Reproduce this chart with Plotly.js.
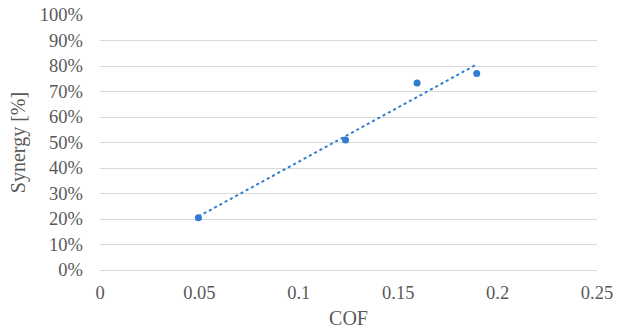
<!DOCTYPE html>
<html>
<head>
<meta charset="utf-8">
<script src="https://cdn.plot.ly/plotly-3.0.1.min.js"></script>
<style>html,body{margin:0;padding:0;background:#fff}#chart{width:621px;height:331px}</style>
</head>
<body>
<div id="chart"></div>
<script>
var cof = [0.0495, 0.1235, 0.1595, 0.1895];
var synergy = [0.205, 0.51, 0.733, 0.771];
var xTicks = [0, 0.05, 0.1, 0.15, 0.2, 0.25];
var xTickText = ["0", "0.05", "0.1", "0.15", "0.2", "0.25"];
var yTicks = [0, 0.1, 0.2, 0.3, 0.4, 0.5, 0.6, 0.7, 0.8, 0.9, 1.0];
var yTickText = ["0%", "10%", "20%", "30%", "40%", "50%", "60%", "70%", "80%", "90%", "100%"];

// linear trendline (least squares) from the data
var n = cof.length, mx = 0, my = 0;
for (var i = 0; i < n; i++) { mx += cof[i]; my += synergy[i]; }
mx /= n; my /= n;
var sxy = 0, sxx = 0;
for (var i = 0; i < n; i++) { sxy += (cof[i]-mx)*(synergy[i]-my); sxx += (cof[i]-mx)*(cof[i]-mx); }
var slope = sxy / sxx, icpt = my - slope * mx;
var xmin = Math.min.apply(null, cof), xmax = Math.max.apply(null, cof);
var trendX = [xmin, xmax];
var trendY = [icpt + slope * xmin, icpt + slope * xmax];

var blue = '#2E7DD2';
var FAM = 'Liberation Serif';
function f(sz) { return {family: FAM, color: '#595959', size: sz}; }

var data = [
  {x: trendX, y: trendY, type: 'scatter', mode: 'lines', line: {color: blue, width: 2, dash: 'dot'}, hoverinfo: 'skip'},
  {x: cof, y: synergy, type: 'scatter', mode: 'markers', marker: {color: blue, size: 7}}
];

var layout = {
  width: 621, height: 331,
  margin: {l: 100, r: 24, t: 15, b: 61},
  showlegend: false,
  paper_bgcolor: '#fff', plot_bgcolor: '#fff',
  font: f(18.5),
  xaxis: {
    range: [0, 0.25], tickvals: xTicks, ticktext: xTickText,
    showgrid: false, zeroline: false,
    showline: true, linecolor: '#d9d9d9', linewidth: 1,
    ticks: '', ticklabelstandoff: 6,
    tickfont: f(18.5),
    title: {text: 'COF', font: f(20), standoff: 8}
  },
  yaxis: {
    range: [0, 1.0], tickvals: yTicks, ticktext: yTickText,
    showgrid: true, gridcolor: '#d9d9d9', gridwidth: 1,
    zeroline: false, showline: false,
    ticks: '', ticklabelstandoff: 16,
    tickfont: f(18.5),
    title: {text: 'Synergy [%]', font: f(20), standoff: 8}
  }
};

Plotly.newPlot('chart', data, layout, {displayModeBar: false, staticPlot: true});
</script>
</body>
</html>
